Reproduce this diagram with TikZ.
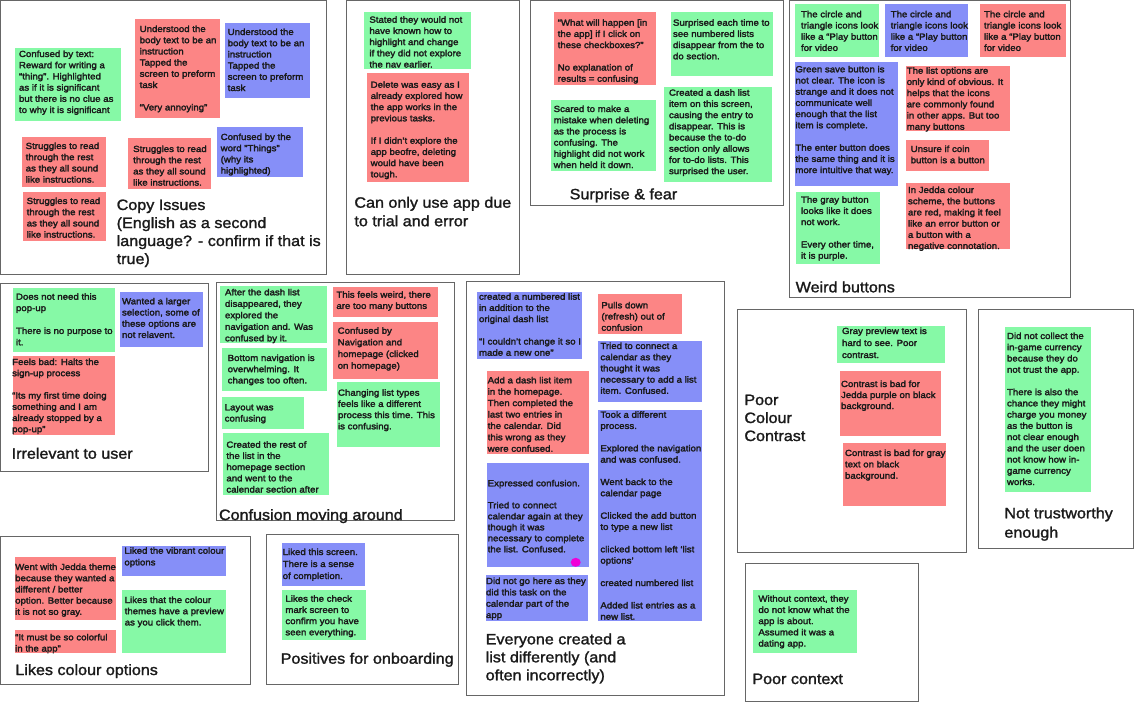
\documentclass[tikz,border=0pt]{standalone}
\usepackage{fontspec}
\usetikzlibrary{shapes.geometric}
\setmainfont{Liberation Sans}[FakeBold=2.5,FakeStretch=1.085]
\newfontfamily\titlefont{Liberation Sans}[FakeBold=1.5,FakeStretch=1.075]
\definecolor{gn}{HTML}{86F9A6}
\definecolor{rd}{HTML}{FC8585}
\definecolor{bl}{HTML}{868FF8}
\definecolor{frameline}{HTML}{666666}
\definecolor{ink}{HTML}{1A1A1A}
\definecolor{dotc}{HTML}{F000D8}
\tikzset{
  frameb/.style={draw=frameline,line width=0.9pt,fill=none,inner sep=0pt,outer sep=0pt,anchor=north west},
  sticky/.style={inner sep=0pt,outer sep=0pt,anchor=north west,draw=white,line width=0.3pt},
  notetext/.style={inner sep=0pt,outer sep=0pt,anchor=north west,align=left,text=ink},
  titletext/.style={inner sep=0pt,outer sep=0pt,anchor=north west,align=left,text=ink}
}
% [pitch]{name}{colour}{x1}{y1}{x2}{y2}{text x}{first line centre y}{text}
\newcommand{\snote}[9][11.2]{%
  \node[sticky,fill=#3,minimum width={(#6-#4)*1pt},minimum height={(#7-#5)*1pt}] (#2) at (#4-0.4,#5-0.4) {};
  \edef\tmpname{#2-t}%
  \nextnote{#1}{#8}{#9}}
\newcommand{\nextnote}[3]{%
  \node[notetext,font=\fontsize{8.9}{#1}\selectfont] (\tmpname) at ({#2-0.3},{\curY-0.7*#1+3}) {\strut #3};}
\newcommand{\frm}[5]{\node[frameb,minimum width={(#4-#2)*1pt},minimum height={(#5-#3)*1pt}] (#1) at (#2,#3) {};}
% [pitch]{name}{x}{first line centre y}{text}
\newcommand{\ttl}[5][18]{\node[titletext,font=\titlefont\fontsize{15}{#1}\selectfont] (#2) at ({#3-0.3},{#4-0.7*#1+5}) {\strut #5};}
\newcommand{\bk}{\\\strut\\}
\begin{document}
\begin{tikzpicture}[x=1pt,y=-1pt]
\useasboundingbox (0,0) rectangle (1134,702);
\fill[white] (0,0) rectangle (1134,702);
% frames
\frm{f1}{0}{0}{326.5}{274.5}
\frm{f2}{346.7}{0}{519.3}{274.5}
\frm{f3}{530.7}{0}{783.3}{205}
\frm{f4}{789.3}{0}{1070.3}{297.3}
\frm{f5}{0}{283.7}{208.7}{471}
\frm{f6}{216}{282}{454.7}{520.3}
\frm{f7}{466.3}{281.7}{724.3}{695}
\frm{f8}{737}{309.3}{966}{552}
\frm{f9}{978.7}{309.3}{1133.7}{548}
\frm{f10}{745.3}{563.7}{918}{701.7}
\frm{f11}{0}{536}{250}{684}
\frm{f12}{266.7}{534.7}{458.7}{684}
% Copy issues
\def\curY{54}\snote{a1}{gn}{15}{48}{122}{122}{19.3}{Confused by text:\\Reward for writing a\\“thing”. Highlighted\\as if it is significant\\but there is no clue as\\to why it is significant}
\def\curY{29}\snote{a2}{rd}{135}{19}{221}{119}{140}{Understood the\\body text to be an\\instruction\\Tapped the\\screen to preform\\task\bk “Very annoying”}
\def\curY{32}\snote{a3}{bl}{225}{23}{311}{99}{228}{Understood the\\body text to be an\\instruction\\Tapped the\\screen to preform\\task}
\def\curY{146}\snote{a4}{rd}{22}{137}{107}{188}{26}{Struggles to read\\through the rest\\as they all sound\\like instructions.}
\def\curY{149}\snote{a5}{rd}{128}{138}{212}{190}{133.5}{Struggles to read\\through the rest\\as they all sound\\like instructions.}
\def\curY{137}\snote{a6}{bl}{217}{127}{304}{178}{221}{Confused by the\\word "Things"\\(why its\\highlighted)}
\def\curY{201}\snote{a7}{rd}{23}{192}{107}{242}{27}{Struggles to read\\through the rest\\as they all sound\\like instructions.}
\ttl{t1}{117}{205}{Copy Issues\\(English as a second\\language? - confirm if that is\\true)}
% trial and error
\def\curY{19.7}\snote{b1}{gn}{364}{12}{471.7}{70}{369.7}{Stated they would not\\have known how to\\highlight and change\\if they did not explore\\the nav earlier.}
\def\curY{84.7}\snote{b2}{rd}{367}{72.7}{470}{182.7}{371}{Delete was easy as I\\already explored how\\the app works in the\\previous tasks.\bk If I didn’t explore the\\app beofre, deleting\\would have been\\tough.}
\ttl[18.5]{t2}{354.7}{202.7}{Can only use app due\\to trial and error}
% surprise
\def\curY{22.7}\snote{c1}{rd}{554}{12}{657}{86}{558}{“What will happen [in\\the app] if I click on\\these checkboxes?”\bk No explanation of\\results = confusing}
\def\curY{22.7}\snote{c2}{gn}{670.7}{12}{774}{76.7}{673.3}{Surprised each time to\\see numbered lists\\disappear from the to\\do section.}
\def\curY{109}\snote{c3}{gn}{551}{100}{657}{171.7}{554}{Scared to make a\\mistake when deleting\\as the process is\\confusing. The\\highlight did not work\\when held it down.}
\def\curY{92.7}\snote{c4}{gn}{664}{86.3}{772.7}{182.7}{669.3}{Created a dash list\\item on this screen,\\causing the entry to\\disappear. This is\\because the to-do\\section only allows\\for to-do lists. This\\surprised the user.}
\ttl{t3}{570}{194.3}{Surprise \& fear}
% weird buttons
\def\curY{14.3}\snote{d1}{gn}{794.3}{4}{880}{57.3}{801.3}{The circle and\\triangle icons look\\like a “Play button\\for video}
\def\curY{14.3}\snote{d2}{bl}{885}{4}{969}{57.3}{891}{The circle and\\triangle icons look\\like a “Play button\\for video}
\def\curY{14.3}\snote{d3}{rd}{980}{4}{1066.7}{57.3}{984.3}{The circle and\\triangle icons look\\like a “Play button\\for video}
\def\curY{69.3}\snote{d4}{bl}{794.3}{61.7}{899}{186.7}{795.7}{Green save button is\\not clear. The icon is\\strange and it does not\\communicate well\\enough that the list\\item is complete.\bk The enter button does\\the same thing and it is\\more intuitive that way.}
\def\curY{70.7}\snote{d5}{rd}{906}{65.7}{1010.3}{131.7}{907}{The list options are\\only kind of obvious. It\\helps that the icons\\are commonly found\\in other apps. But too\\many buttons}
\def\curY{149}\snote{d6}{rd}{906}{140}{989.7}{171.7}{911}{Unsure if coin\\button is a button}
\def\curY{190}\snote{d7}{rd}{906}{182.7}{1010.3}{249.7}{908.3}{In Jedda colour\\scheme, the buttons\\are red, making it feel\\like an error button or\\a button with a\\negative connotation.}
\def\curY{199.7}\snote{d8}{gn}{796}{192}{881}{265}{801.3}{The gray button\\looks like it does\\not work.\bk Every other time,\\it is purple.}
\ttl{t4}{796}{287.3}{Weird buttons}
% irrelevant
\def\curY{296.7}\snote[11.4]{e1}{gn}{12.3}{287.3}{115.3}{353}{16.3}{Does not need this\\pop-up\bk There is no purpose to\\it.}
\def\curY{301.3}\snote{e2}{bl}{119.7}{291.3}{203.7}{347.7}{122.3}{Wanted a larger\\selection, some of\\these options are\\not relavent.}
\def\curY{362}\snote{e3}{rd}{12.3}{356}{115.3}{435.7}{12.5}{Feels bad: Halts the\\sign-up process\bk “Its my first time doing\\something and I am\\already stopped by a\\pop-up”}
\ttl{t5}{12}{453.7}{Irrelevant to user}
% confusion moving around
\def\curY{292.3}\snote[11.5]{g1}{gn}{220}{286}{327.3}{343.3}{225.3}{After the dash list\\disappeared, they\\explored the\\navigation and. Was\\confused by it.}
\def\curY{358}\snote{g2}{gn}{221.3}{347.7}{327.3}{391.3}{228}{Bottom navigation is\\overwhelming. It\\changes too often.}
\def\curY{407.3}\snote{g3}{gn}{221.3}{397}{305}{429.7}{225}{Layout was\\confusing}
\def\curY{444.7}\snote{g4}{gn}{222.7}{433}{330}{496}{226.7}{Created the rest of\\the list in the\\homepage section\\and went to the\\calendar section after}
\def\curY{294.7}\snote{g5}{rd}{332.3}{287}{438.7}{317.3}{336.7}{This feels weird, there\\are too many buttons}
\def\curY{330.7}\snote[11.67]{g6}{rd}{332.3}{321.3}{438.7}{379.3}{338}{Confused by\\Navigation and\\homepage (clicked\\on homepage)}
\def\curY{392.7}\snote{g7}{gn}{336.7}{382}{441}{447.7}{338.3}{Changing list types\\feels like a different\\process this time. This\\is confusing.}
\ttl{t6}{219.3}{515}{Confusion moving around}
% list differently
\def\curY{296.7}\snote{h1}{bl}{477}{291.3}{582.7}{359.7}{479.3}{created a numbered list\\in addition to the\\original dash list\bk “I couldn’t change it so I\\made a new one”}
\def\curY{305.3}\snote{h2}{rd}{598}{294}{683}{335}{601.7}{Pulls down\\(refresh) out of\\confusion}
\def\curY{346}\snote{h3}{bl}{598}{340.7}{702.7}{402.7}{600.7}{Tried to connect a\\calendar as they\\thought it was\\necessary to add a list\\item. Confused.}
\def\curY{380.3}\snote[11.4]{h4}{rd}{486.7}{371}{589.7}{455}{488}{Add a dash list item\\in the homepage.\\Then completed the\\last two entries in\\the calendar.  Did\\this wrong as they\\were confused.}
\def\curY{483.3}\snote[11]{h5}{bl}{486.7}{463}{589.7}{567.3}{488}{Expressed confusion.\bk Tried to connect\\calendar again at they\\though it was\\necessary to complete\\the list. Confused.}
\def\curY{581}\snote[11.33]{h6}{bl}{485.3}{574.3}{588.3}{621.3}{486.3}{Did not go here as they\\did this task on the\\calendar part of the\\app}
\def\curY{414.7}\snote[11.22]{h7}{bl}{598}{409.3}{702.7}{621.3}{600.7}{Took a different\\process.\bk Explored the navigation\\and was confused.\bk Went back to the\\calendar page\bk Clicked the add button\\to type a new list\bk clicked bottom left ‘list\\options’\bk created numbered list\bk Added list entries as a\\new list.}
\node[ellipse,fill=dotc,inner sep=0pt,minimum width=10pt,minimum height=9pt] (dot) at (575.7,562.3) {};
\ttl{t7}{486}{639.3}{Everyone created a\\list differently (and\\often incorrectly)}
% colour contrast
\def\curY{331}\snote[12]{i1}{gn}{837}{325.7}{946}{364}{842.3}{Gray preview text is\\hard to see. Poor\\contrast.}
\def\curY{384}\snote[11]{i2}{rd}{840}{371}{941.7}{437}{841.3}{Contrast is bad for\\Jedda purple on black\\background.}
\def\curY{453}\snote[11.33]{i3}{rd}{842.7}{442.3}{947}{507}{845.3}{Contrast is bad for gray\\text on black\\background.}
\ttl{t8}{744.7}{400}{Poor\\Colour\\Contrast}
% trustworthy
\def\curY{336}\snote[11.23]{j1}{gn}{1004.7}{327}{1091.3}{493}{1007.3}{Did not collect the\\in-game currency\\because they do\\not trust the app.\bk There is also the\\chance they might\\charge you money\\as the button is\\not clear enough\\and the user doen\\not know how in-\\game currency\\works.}
\ttl[19.3]{t9}{1004.7}{513.3}{Not trustworthy\\enough}
% context
\def\curY{598.7}\snote{k1}{gn}{753}{589.3}{858}{654}{758.7}{Without context, they\\do not know what the\\app is about.\\Assumed it was a\\dating app.}
\ttl{t10}{752.7}{679}{Poor context}
% colour options
\def\curY{567}\snote{l1}{rd}{15}{556.3}{117}{621}{15.5}{Went with Jedda theme\\because they wanted a\\different / better\\option. Better because\\it is not so gray.}
\def\curY{637.3}\snote{l2}{rd}{15}{629.3}{117}{654}{15.5}{“It must be so colorful\\in the app”}
\def\curY{550.7}\snote[11.67]{l3}{bl}{122}{545.3}{227}{577}{124.7}{Liked the vibrant colour\\options}
\def\curY{600}\snote{l4}{gn}{122}{589.3}{227}{654}{125}{Likes that the colour\\themes have a preview\\as you click them.}
\ttl{t11}{15.7}{670}{Likes colour options}
% onboarding
\def\curY{552}\snote[12]{m1}{bl}{281.7}{542.7}{365.7}{587}{283}{Liked this screen.\\There is a sense\\of completion.}
\def\curY{598.7}\snote{m2}{gn}{281.7}{589.3}{367}{640.3}{285.7}{Likes the check\\mark screen to\\confirm you have\\seen everything.}
\ttl{t12}{281}{658.7}{Positives for onboarding}
\end{tikzpicture}
\end{document}
